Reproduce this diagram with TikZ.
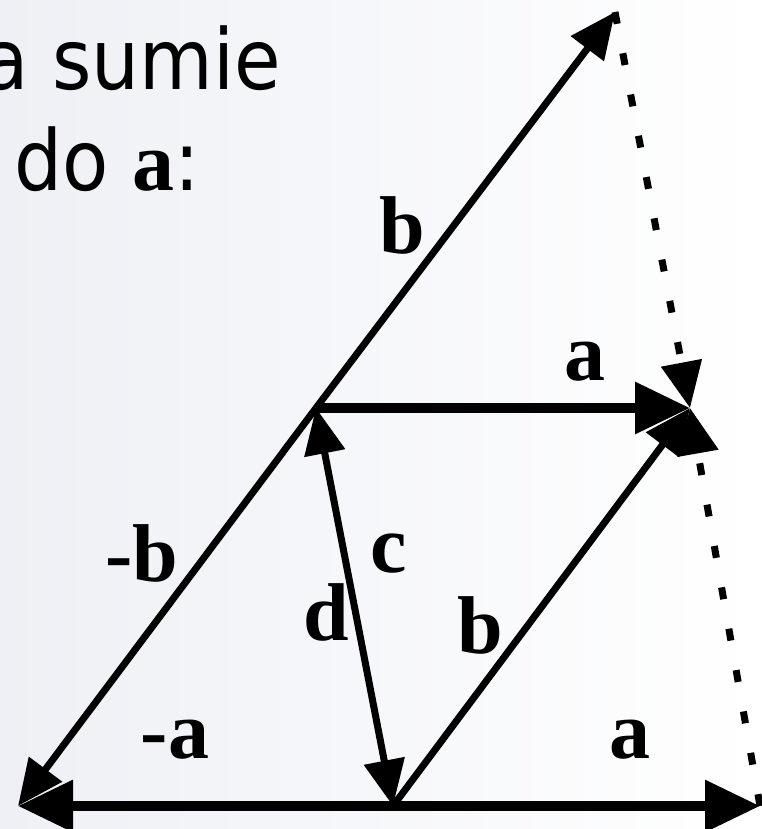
\documentclass[tikz,border=0pt]{standalone}
\usepackage{fontspec}
\usetikzlibrary{arrows.meta}
\newfontfamily\sansf{DejaVu Sans Condensed}
\newfontfamily\seriff{Liberation Serif}
\definecolor{bgl}{RGB}{238,240,245}
\begin{document}
\begin{tikzpicture}[x=1pt,y=-1pt,
  tipS/.tip={Triangle[length=46pt,width=40pt]},
  tipB/.tip={Triangle[length=55pt,width=50pt]},
  vec/.style={line width=7pt,-tipS},
  hvec/.style={line width=9.5pt,-tipB},
  dotv/.style={line width=7pt,dash pattern=on 12pt off 30pt,-tipS},
  lbl/.style={inner sep=0pt,font=\fontsize{82}{98}\selectfont\seriff\bfseries},
  txt/.style={inner sep=0pt,font=\fontsize{84}{100}\selectfont\sansf}]
\useasboundingbox (0,0) rectangle (762,829);
\shade[left color=bgl,right color=white] (0,0) rectangle (762,829);
% points
\coordinate (L) at (18,806);
\coordinate (O) at (393,806);
\coordinate (R) at (760,806);
\coordinate (P) at (316,408);
\coordinate (Q) at (690,408);
\coordinate (T) at (615,12);
% text
\node[txt,anchor=base east] (t1) at (281,90) {a sumie};
\node[txt,anchor=base west] (t2) at (14,190) {do {\seriff\bfseries a}:};
% dotted vectors
\draw[dotv] (T) -- (Q);
\draw[dotv] (R) -- (Q);
% vectors
\draw[vec] (P) -- (T);
\draw[vec] (P) -- (L);
\draw[vec] (O) -- (Q);
\draw[hvec] (P) -- (Q);
\draw[line width=7pt,tipS-tipS] (O) -- (P);
\draw[hvec] (O) -- (L);
\draw[hvec] (O) -- (R);
% labels
\node[lbl] (lb1) at (402,225) {b};
\node[lbl] (la1) at (585,362) {a};
\node[lbl] (lmb) at (142,553) {-b};
\node[lbl] (lc) at (389,554) {c};
\node[lbl] (ld) at (326,612) {d};
\node[lbl] (lb2) at (480,625) {b};
\node[lbl] (lma) at (175,740) {-a};
\node[lbl] (la2) at (630,740) {a};
\end{tikzpicture}
\end{document}
